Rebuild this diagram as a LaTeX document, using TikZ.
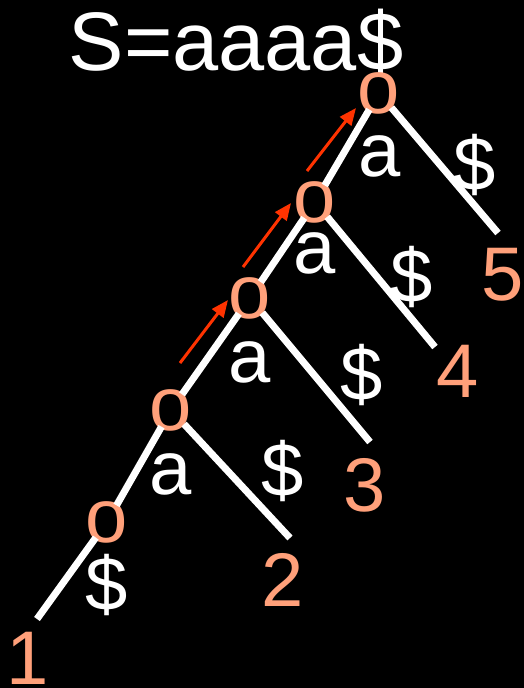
\documentclass[tikz,border=0pt]{standalone}
\usepackage{fontspec}
\setmainfont{Liberation Sans}
\usetikzlibrary{arrows.meta}
\definecolor{salmon}{HTML}{FFA07A}
\definecolor{hopred}{HTML}{FF3300}
\tikzset{>={Latex}}

\begin{document}
\begin{tikzpicture}[x=1pt, y=-1pt, font=\fontsize{76}{80}\selectfont]

  \tikzset{tnode/.style={circle, minimum size=38pt, inner sep=0pt,
                         label={[text=salmon, inner sep=0pt]center:o}},
           edge/.style={white, line width=7pt},
           lab/.style={text=white, inner sep=0pt},
           leaf/.style={text=salmon, inner sep=0pt},
           hop/.style={hopred, line width=3pt, -{Triangle[length=17pt, width=14pt]}}}

  \fill[black] (0,0) rectangle (524,688);
  \useasboundingbox (0,0) rectangle (524,688);

  \node[lab, anchor=base, font=\fontsize{83}{86}\selectfont] (title) at (236,70) {S=aaaa\$};

  % the chain of a's, one node per depth
  \foreach \x/\y/\n in {107/522/1, 171/410/2, 250/298/3, 315/202/4, 379/93/5}
    \node[tnode] (n\n) at (\x,\y) {};

  % where each $ edge ends
  \foreach \x/\y/\n in {37/619/1, 290/538/2, 370/442/3, 435/347/4, 498/233/5}
    \coordinate (l\n) at (\x,\y);

  \draw[edge] (n1) -- (n2);
  \draw[edge] (n2) -- (n3);
  \draw[edge] (n3) -- (n4);
  \draw[edge] (n4) -- (n5);
  \foreach \n in {1,...,5}
    \draw[edge] (n\n) -- (l\n);

  % edge labels
  \foreach \x/\y/\n in {171/474/2, 250/362/3, 315/253/4, 380/156/5}
    \node[lab] (a\n) at (\x,\y) {a};
  \foreach \x/\y/\n in {107/585/1, 283/471/2, 362/375/3, 412/277/4, 475/165/5}
    \node[lab] (d\n) at (\x,\y) {\$};

  % suffix numbers
  \foreach \x/\y/\n in {28/658/1, 283/580/2, 365/485/3, 458/371/4, 503/275/5}
    \node[leaf] (s\n) at (\x,\y) {\n};

  % walking up the chain
  \foreach \i/\ax/\ay/\bx/\by in {1/180/363/228/300, 2/243/267/291/203, 3/307/171/356/108} {
    \coordinate (hs\i) at (\ax,\ay);
    \coordinate (he\i) at (\bx,\by);
    \draw[hop] (hs\i) -- (he\i);
  }

\end{tikzpicture}
\end{document}
